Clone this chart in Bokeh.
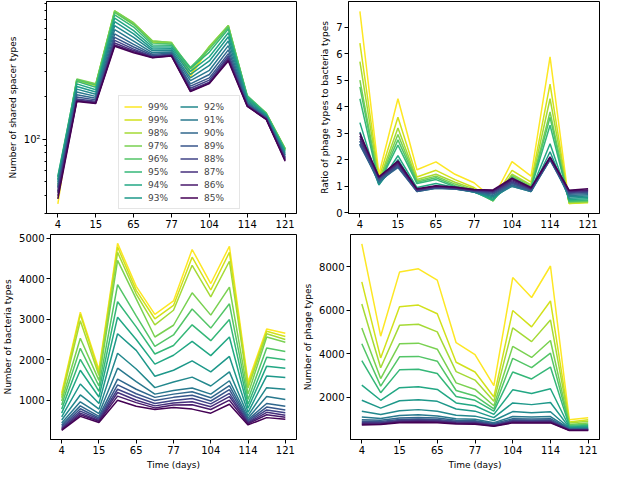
from bokeh.plotting import figure
from bokeh.models import Range1d, FixedTicker, Legend, LegendItem
from bokeh.layouts import column, row
from bokeh.palettes import Viridis256
from bokeh.embed import file_html
from bokeh.resources import INLINE

# ---------------- data ----------------
identity = ["99%", "99%", "98%", "97%", "96%", "95%", "94%", "93%",
            "92%", "91%", "90%", "89%", "88%", "87%", "86%", "85%"]
time_index = list(range(13))
tick_pos = [0, 2, 4, 6, 8, 10, 12]
tick_labels = ["4", "15", "65", "77", "104", "114", "121"]

# each row = one time point, 16 values in identity order
shared_spacers = [
    [35, 38, 42, 47, 52, 55, 54, 52, 50, 48, 46, 45, 43, 42, 40, 38],
    [255, 258, 262, 265, 262, 255, 245, 235, 225, 215, 205, 198, 192, 188, 186, 184],
    [238, 240, 243, 245, 240, 232, 223, 215, 207, 200, 194, 189, 185, 182, 180, 178],
    [780, 790, 800, 800, 780, 750, 710, 670, 630, 590, 550, 520, 495, 475, 460, 450],
    [640, 650, 655, 660, 640, 615, 580, 550, 520, 490, 465, 445, 430, 420, 412, 405],
    [480, 485, 490, 490, 475, 460, 445, 430, 418, 405, 395, 388, 382, 378, 376, 374],
    [470, 475, 478, 478, 468, 458, 445, 432, 420, 410, 402, 396, 392, 389, 386, 384],
    [275, 285, 300, 312, 320, 315, 300, 285, 270, 258, 245, 236, 228, 222, 218, 216],
    [440, 445, 450, 445, 430, 410, 380, 355, 330, 305, 285, 270, 260, 252, 248, 246],
    [610, 620, 630, 630, 615, 595, 560, 525, 490, 455, 425, 400, 385, 372, 362, 355],
    [188, 192, 197, 200, 203, 200, 195, 190, 185, 181, 178, 176, 174, 172, 171, 170],
    [150, 151, 152, 153, 152, 151, 149, 147, 145, 143, 142, 141, 140, 139, 138, 138],
    [84, 85, 86, 86, 85, 84, 82, 80, 78, 77, 75, 74, 73, 72, 71, 70],
]

ratio = [
    [7.6, 6.4, 5.7, 5.0, 4.75, 4.3, 3.4, 3.05, 2.7, 2.6, 2.55, 2.6, 2.7, 2.8, 2.9, 3.0],
    [1.45, 1.3, 1.2, 1.15, 1.1, 1.1, 1.05, 1.05, 1.1, 1.15, 1.2, 1.25, 1.3, 1.3, 1.35, 1.35],
    [4.3, 3.6, 3.2, 2.95, 2.75, 2.55, 2.15, 2.0, 1.85, 1.75, 1.7, 1.75, 1.8, 1.85, 1.9, 1.95],
    [1.62, 1.35, 1.25, 1.2, 1.15, 1.1, 0.95, 0.88, 0.82, 0.8, 0.8, 0.82, 0.84, 0.86, 0.88, 0.9],
    [1.92, 1.6, 1.45, 1.38, 1.32, 1.25, 1.1, 1.0, 0.95, 0.92, 0.92, 0.94, 0.96, 0.98, 1.0, 1.02],
    [1.45, 1.25, 1.15, 1.08, 1.02, 0.98, 0.95, 0.92, 0.9, 0.89, 0.89, 0.9, 0.92, 0.93, 0.95, 0.97],
    [1.13, 0.95, 0.9, 0.85, 0.82, 0.8, 0.78, 0.78, 0.78, 0.78, 0.8, 0.82, 0.83, 0.85, 0.87, 0.88],
    [0.53, 0.48, 0.45, 0.45, 0.45, 0.47, 0.5, 0.55, 0.6, 0.65, 0.7, 0.73, 0.77, 0.8, 0.83, 0.86],
    [1.93, 1.6, 1.45, 1.4, 1.35, 1.3, 1.15, 1.05, 1.0, 1.0, 1.05, 1.1, 1.15, 1.2, 1.25, 1.3],
    [1.38, 1.15, 1.05, 1.0, 0.95, 0.92, 0.85, 0.8, 0.8, 0.8, 0.82, 0.85, 0.88, 0.9, 0.92, 0.95],
    [5.88, 4.85, 4.3, 3.8, 3.6, 3.3, 2.6, 2.3, 2.1, 2.0, 2.0, 2.0, 2.05, 2.05, 2.1, 2.1],
    [0.35, 0.35, 0.38, 0.4, 0.42, 0.45, 0.5, 0.55, 0.6, 0.65, 0.7, 0.73, 0.76, 0.8, 0.83, 0.85],
    [0.4, 0.38, 0.4, 0.42, 0.45, 0.48, 0.53, 0.58, 0.63, 0.68, 0.72, 0.76, 0.8, 0.83, 0.86, 0.9],
]

bacteria = [
    [1180, 1120, 1060, 980, 880, 780, 680, 590, 510, 440, 390, 350, 320, 295, 275, 255],
    [3170, 3120, 2960, 2530, 2280, 2010, 1740, 1400, 1130, 960, 860, 790, 730, 680, 640, 600],
    [1750, 1690, 1610, 1490, 1350, 1220, 1080, 920, 780, 670, 600, 560, 530, 500, 480, 450],
    [4870, 4780, 4650, 4450, 3850, 3430, 3050, 2640, 2160, 1790, 1520, 1380, 1270, 1190, 1100, 1000],
    [3810, 3710, 3620, 3500, 3080, 2810, 2500, 2230, 1770, 1460, 1270, 1160, 1080, 1000, 940, 850],
    [3120, 3010, 2860, 2560, 2330, 2140, 1890, 1590, 1310, 1150, 1070, 990, 920, 860, 810, 770],
    [3450, 3340, 3220, 2850, 2610, 2350, 2110, 1740, 1450, 1240, 1150, 1070, 990, 930, 880, 820],
    [4720, 4530, 4330, 3650, 3250, 2860, 2450, 1970, 1570, 1300, 1210, 1120, 1040, 960, 890, 780],
    [3880, 3720, 3550, 3100, 2780, 2470, 2100, 1700, 1350, 1150, 1060, 980, 910, 840, 770, 680],
    [4800, 4650, 4430, 3790, 3380, 2990, 2560, 2080, 1700, 1480, 1360, 1260, 1170, 1090, 1000, 900],
    [1450, 1380, 1300, 1150, 1020, 900, 800, 700, 620, 560, 520, 490, 460, 440, 420, 390],
    [2760, 2700, 2640, 2560, 2290, 2060, 1840, 1600, 1310, 1090, 920, 830, 760, 700, 640, 570],
    [2650, 2570, 2500, 2430, 2200, 2000, 1790, 1560, 1270, 1020, 850, 760, 690, 630, 580, 530],
]

phage = [
    [9050, 7300, 6280, 5180, 4450, 3670, 2550, 1850, 1350, 1080, 950, 880, 830, 790, 750, 710],
    [4800, 3800, 3350, 2850, 2500, 2200, 1850, 1490, 1200, 1010, 930, 870, 830, 790, 760, 730],
    [7750, 6150, 5300, 4450, 3850, 3250, 2430, 1830, 1370, 1150, 1030, 960, 920, 880, 850, 820],
    [7900, 6230, 5350, 4480, 3870, 3280, 2470, 1870, 1420, 1180, 1060, 990, 940, 900, 870, 830],
    [7380, 5830, 5000, 4200, 3650, 3080, 2350, 1800, 1350, 1130, 1030, 960, 920, 880, 850, 820],
    [4500, 3600, 3170, 2650, 2300, 2020, 1730, 1450, 1160, 1000, 930, 880, 850, 820, 790, 760],
    [3950, 3150, 2780, 2350, 2050, 1850, 1600, 1350, 1120, 980, 910, 870, 840, 810, 780, 750],
    [2520, 2000, 1800, 1600, 1450, 1350, 1200, 1050, 920, 820, 780, 740, 710, 690, 670, 650],
    [7500, 5980, 5180, 4330, 3780, 3150, 2330, 1730, 1330, 1100, 1000, 940, 900, 870, 840, 810],
    [6580, 5230, 4550, 3820, 3350, 2830, 2160, 1650, 1280, 1080, 990, 930, 890, 860, 830, 800],
    [8030, 6420, 5550, 4600, 4020, 3380, 2380, 1750, 1320, 1100, 1000, 940, 900, 870, 840, 810],
    [950, 850, 800, 740, 700, 660, 620, 590, 560, 540, 520, 500, 490, 480, 470, 460],
    [1050, 950, 880, 800, 740, 690, 640, 600, 570, 545, 525, 505, 495, 485, 470, 460],
]

colors = [Viridis256[round(k * 255 / 15)] for k in range(16)][::-1]

FONT = "DejaVu Sans"


def style_axis(ax):
    ax.axis_line_color = "black"
    ax.major_tick_line_color = "black"
    ax.minor_tick_line_color = "black"
    ax.major_tick_out = 4
    ax.major_tick_in = 0
    ax.minor_tick_out = 2
    ax.minor_tick_in = 0
    ax.major_label_standoff = 2
    ax.axis_label_standoff = 3
    ax.major_label_text_font = FONT
    ax.major_label_text_font_size = "10px"
    ax.major_label_text_color = "black"
    ax.axis_label_text_font = FONT
    ax.axis_label_text_font_size = "9px"
    ax.axis_label_text_font_style = "normal"
    ax.axis_label_text_color = "black"


def make_fig(width, height, y_range, y_type, bl, br, bt, bb, ylabel, xlabel=None):
    p = figure(width=width, height=height, x_range=Range1d(-0.6, 12.6),
               y_range=y_range, y_axis_type=y_type, output_backend="svg",
               toolbar_location=None, min_border_left=bl, min_border_right=br,
               min_border_top=bt, min_border_bottom=bb)
    p.grid.visible = False
    p.outline_line_color = "black"
    p.outline_line_width = 1
    p.outline_line_alpha = 1
    p.xaxis.ticker = FixedTicker(ticks=tick_pos, minor_ticks=[])
    p.xaxis.major_label_overrides = {t: l for t, l in zip(tick_pos, tick_labels)}
    p.yaxis.axis_label = ylabel
    if xlabel:
        p.xaxis.axis_label = xlabel
    style_axis(p.xaxis[0])
    style_axis(p.yaxis[0])
    return p


def draw(p, table):
    rends = []
    for j in range(16):
        ys = [table[i][j] for i in range(13)]
        r = p.line(time_index, ys, line_color=colors[j], line_width=1.5)
        rends.append(r)
    return rends


# top-left: shared spacer types (log)
p1 = make_fig(300, 230, Range1d(30, 930), "log", 46, 4, 1, 17,
              "Number of shared spacer types")
p1.yaxis.ticker = FixedTicker(ticks=[100],
                              minor_ticks=[30, 40, 50, 60, 70, 80, 90,
                                           200, 300, 400, 500, 600, 700, 800, 900])
p1.yaxis.major_label_overrides = {100: "10²"}
r1 = draw(p1, shared_spacers)
legend = Legend(items=[LegendItem(label=identity[j], renderers=[r1[j]]) for j in range(16)],
                location=(72, 4), nrows=8, orientation="vertical",
                label_text_font=FONT, label_text_font_size="9px",
                label_height=11, glyph_height=11, glyph_width=18,
                label_standoff=6, spacing=2, padding=5, margin=0,
                label_width=30, border_line_color="#cccccc",
                border_line_width=1, background_fill_alpha=0.85)
p1.add_layout(legend)

# top-right: ratio
p2 = make_fig(301, 230, Range1d(-0.03, 7.97), "linear", 48, 2, 1, 17,
              "Ratio of phage types to bacteria types")
p2.yaxis.ticker = FixedTicker(ticks=[0, 1, 2, 3, 4, 5, 6, 7])
draw(p2, ratio)

# bottom-left: bacteria
p3 = make_fig(300, 242, Range1d(30, 5090), "linear", 46, 4, 4, 26,
              "Number of bacteria types", "Time (days)")
p3.yaxis.ticker = FixedTicker(ticks=[1000, 2000, 3000, 4000, 5000])
draw(p3, bacteria)

# bottom-right: phage
p4 = make_fig(301, 242, Range1d(45, 9480), "linear", 48, 2, 4, 26,
              "Number of phage types", "Time (days)")
p4.yaxis.ticker = FixedTicker(ticks=[2000, 4000, 6000, 8000])
draw(p4, phage)

layout = column(row(p1, p2), row(p3, p4))
open("out.html", "w").write(file_html(layout, INLINE, "chart"))
